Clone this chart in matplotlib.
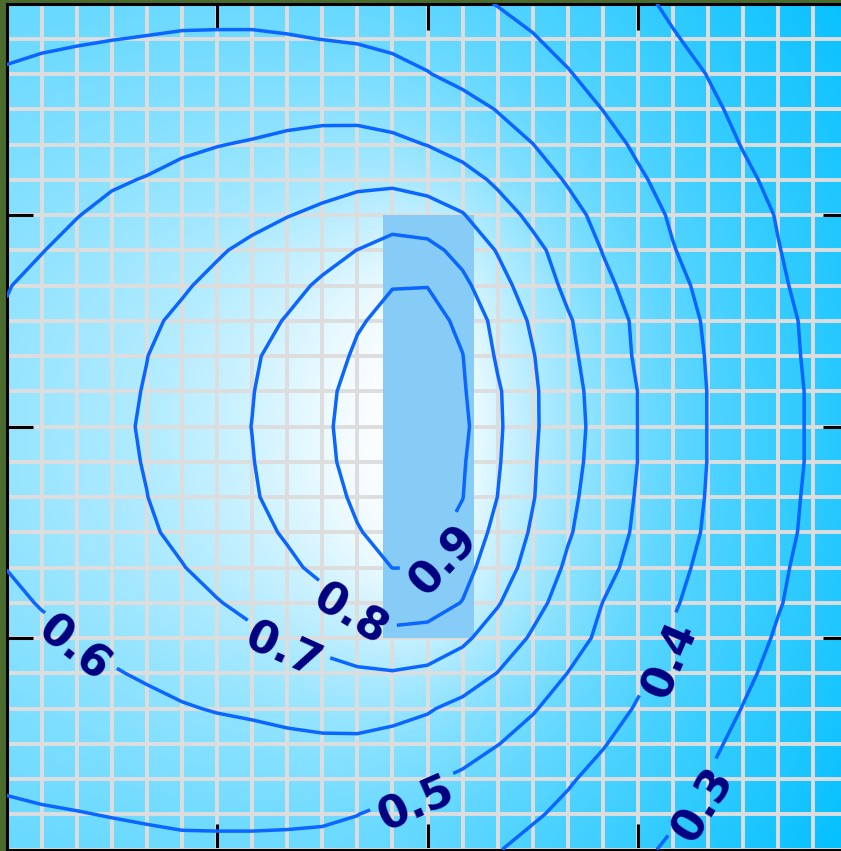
"""
Contour map of a normalised scalar field on the square [-2, 2] x [-2, 2].

The field is shaded as a sky-blue image, a fine reference grid is laid over
it, a rectangular region is highlighted in the middle and the iso-lines
0.3 ... 0.9 are drawn and labelled on top.
"""

import numpy as np
import matplotlib.pyplot as plt
from matplotlib.colors import LinearSegmentedColormap
from matplotlib.patches import Rectangle

# Field values on a 25 x 25 grid.
# Rows run from the top edge (y = 2) down to the bottom edge (y = -2),
# columns from the left edge (x = -2) to the right edge (x = 2).
field_rows = [
    [0.470, 0.470, 0.470, 0.475, 0.480, 0.480, 0.480, 0.480, 0.475, 0.470, 0.460, 0.450, 0.435, 0.418, 0.397, 0.381, 0.362, 0.339, 0.314, 0.288, 0.263, 0.239, 0.216, 0.192, 0.167],
    [0.489, 0.493, 0.496, 0.499, 0.502, 0.506, 0.507, 0.507, 0.504, 0.499, 0.494, 0.484, 0.469, 0.455, 0.432, 0.404, 0.381, 0.357, 0.332, 0.305, 0.281, 0.257, 0.234, 0.210, 0.187],
    [0.504, 0.510, 0.515, 0.522, 0.528, 0.534, 0.537, 0.540, 0.541, 0.540, 0.535, 0.522, 0.503, 0.478, 0.453, 0.428, 0.404, 0.377, 0.351, 0.326, 0.298, 0.275, 0.251, 0.228, 0.205],
    [0.519, 0.527, 0.536, 0.546, 0.553, 0.562, 0.568, 0.572, 0.577, 0.580, 0.578, 0.567, 0.549, 0.528, 0.497, 0.464, 0.432, 0.399, 0.370, 0.341, 0.312, 0.285, 0.260, 0.235, 0.210],
    [0.535, 0.545, 0.557, 0.570, 0.578, 0.590, 0.598, 0.605, 0.615, 0.623, 0.626, 0.617, 0.598, 0.563, 0.531, 0.501, 0.462, 0.425, 0.389, 0.358, 0.327, 0.297, 0.272, 0.247, 0.222],
    [0.550, 0.563, 0.577, 0.593, 0.603, 0.616, 0.628, 0.641, 0.656, 0.669, 0.680, 0.681, 0.663, 0.637, 0.584, 0.538, 0.493, 0.451, 0.410, 0.375, 0.344, 0.312, 0.284, 0.259, 0.234],
    [0.565, 0.582, 0.598, 0.615, 0.627, 0.640, 0.655, 0.677, 0.697, 0.716, 0.739, 0.760, 0.743, 0.705, 0.640, 0.579, 0.526, 0.477, 0.432, 0.391, 0.359, 0.327, 0.296, 0.271, 0.246],
    [0.580, 0.598, 0.617, 0.636, 0.655, 0.674, 0.692, 0.717, 0.745, 0.773, 0.801, 0.833, 0.827, 0.771, 0.694, 0.625, 0.560, 0.497, 0.450, 0.403, 0.369, 0.335, 0.302, 0.275, 0.248],
    [0.597, 0.616, 0.635, 0.654, 0.673, 0.692, 0.718, 0.748, 0.778, 0.811, 0.854, 0.898, 0.898, 0.822, 0.735, 0.652, 0.581, 0.519, 0.468, 0.420, 0.380, 0.344, 0.309, 0.279, 0.251],
    [0.606, 0.627, 0.647, 0.668, 0.688, 0.713, 0.743, 0.773, 0.805, 0.849, 0.894, 0.917, 0.934, 0.880, 0.768, 0.687, 0.609, 0.544, 0.485, 0.435, 0.390, 0.354, 0.318, 0.286, 0.258],
    [0.613, 0.634, 0.656, 0.677, 0.699, 0.729, 0.759, 0.790, 0.828, 0.871, 0.909, 0.934, 0.940, 0.902, 0.788, 0.705, 0.621, 0.551, 0.489, 0.441, 0.395, 0.358, 0.321, 0.288, 0.258],
    [0.616, 0.638, 0.660, 0.681, 0.704, 0.735, 0.766, 0.797, 0.841, 0.886, 0.919, 0.946, 0.935, 0.910, 0.811, 0.714, 0.632, 0.562, 0.499, 0.448, 0.398, 0.361, 0.325, 0.291, 0.262],
    [0.618, 0.640, 0.662, 0.684, 0.708, 0.739, 0.769, 0.801, 0.845, 0.890, 0.922, 0.950, 0.939, 0.921, 0.815, 0.714, 0.636, 0.566, 0.499, 0.449, 0.398, 0.361, 0.325, 0.291, 0.262],
    [0.617, 0.639, 0.660, 0.682, 0.704, 0.735, 0.766, 0.797, 0.841, 0.886, 0.920, 0.948, 0.936, 0.909, 0.809, 0.709, 0.630, 0.563, 0.499, 0.449, 0.398, 0.361, 0.325, 0.291, 0.262],
    [0.614, 0.635, 0.657, 0.678, 0.699, 0.730, 0.761, 0.791, 0.831, 0.874, 0.911, 0.938, 0.929, 0.902, 0.799, 0.705, 0.621, 0.554, 0.493, 0.443, 0.395, 0.358, 0.321, 0.288, 0.258],
    [0.608, 0.628, 0.649, 0.669, 0.690, 0.716, 0.746, 0.776, 0.809, 0.852, 0.896, 0.922, 0.926, 0.875, 0.770, 0.689, 0.609, 0.545, 0.486, 0.436, 0.390, 0.354, 0.318, 0.285, 0.256],
    [0.601, 0.619, 0.639, 0.658, 0.678, 0.697, 0.725, 0.755, 0.784, 0.819, 0.862, 0.901, 0.901, 0.831, 0.749, 0.663, 0.586, 0.526, 0.471, 0.421, 0.380, 0.345, 0.310, 0.279, 0.250],
    [0.585, 0.604, 0.622, 0.641, 0.659, 0.677, 0.696, 0.721, 0.748, 0.776, 0.805, 0.843, 0.840, 0.797, 0.707, 0.629, 0.561, 0.499, 0.453, 0.407, 0.371, 0.338, 0.304, 0.274, 0.245],
    [0.570, 0.585, 0.599, 0.617, 0.634, 0.651, 0.668, 0.685, 0.702, 0.723, 0.748, 0.777, 0.767, 0.717, 0.655, 0.589, 0.534, 0.483, 0.436, 0.392, 0.359, 0.326, 0.293, 0.264, 0.235],
    [0.554, 0.568, 0.581, 0.595, 0.608, 0.621, 0.634, 0.647, 0.661, 0.676, 0.689, 0.694, 0.680, 0.650, 0.598, 0.547, 0.499, 0.457, 0.414, 0.378, 0.345, 0.312, 0.282, 0.253, 0.224],
    [0.538, 0.548, 0.559, 0.572, 0.583, 0.595, 0.604, 0.611, 0.621, 0.630, 0.635, 0.627, 0.608, 0.575, 0.541, 0.506, 0.468, 0.430, 0.394, 0.362, 0.330, 0.298, 0.269, 0.240, 0.211],
    [0.523, 0.530, 0.539, 0.548, 0.557, 0.567, 0.573, 0.577, 0.583, 0.587, 0.586, 0.573, 0.558, 0.538, 0.502, 0.472, 0.438, 0.404, 0.373, 0.343, 0.313, 0.283, 0.254, 0.225, 0.196],
    [0.507, 0.513, 0.518, 0.525, 0.532, 0.538, 0.542, 0.544, 0.547, 0.547, 0.543, 0.528, 0.510, 0.485, 0.459, 0.433, 0.407, 0.380, 0.353, 0.326, 0.298, 0.270, 0.242, 0.214, 0.186],
    [0.492, 0.495, 0.498, 0.502, 0.506, 0.510, 0.511, 0.511, 0.510, 0.508, 0.501, 0.483, 0.465, 0.446, 0.427, 0.408, 0.385, 0.360, 0.334, 0.308, 0.281, 0.253, 0.225, 0.197, 0.169],
    [0.477, 0.478, 0.480, 0.482, 0.485, 0.488, 0.488, 0.488, 0.487, 0.485, 0.477, 0.465, 0.450, 0.430, 0.403, 0.380, 0.358, 0.336, 0.313, 0.289, 0.261, 0.233, 0.205, 0.177, 0.149],
]

contour_levels = [0.3, 0.4, 0.5, 0.6, 0.7, 0.8, 0.9]

# Highlighted region, as [x0, x1] and [y0, y1]
region_x = [-0.21, 0.22]
region_y = [-1.0, 1.0]

# Points next to which each contour label is placed
label_spots = [
    (-1.675, -1.047),   # 0.6
    (-0.677, -1.047),   # 0.7
    (-0.359, -0.891),   # 0.8
    (0.083, -0.617),    # 0.9
    (-0.059, -1.766),   # 0.5
    (1.128, -1.090),    # 0.4
    (1.318, -1.790),    # 0.3
]

FIG_W, FIG_H = 841, 851          # output size [px]
DPI = 100
BG_COLOR = "#4a6b2b"             # figure background
LINE_COLOR = "#0a66ff"           # contour lines
LABEL_COLOR = "#000080"          # contour labels
GRID_COLOR = "#dddddd"
REGION_COLOR = "#87cbf7"
LABEL_DROP = 12                  # labels hang this far below their line [px]


def build_field():
    """Return grid coordinates and the field with rows ordered bottom to top."""
    z = np.array(field_rows, dtype=float)[::-1]
    ny, nx = z.shape
    x = np.linspace(-2.0, 2.0, nx)
    y = np.linspace(-2.0, 2.0, ny)
    return x, y, z


def drop_labels(ax, texts, drop):
    """Move each label a few pixels towards its own 'down' direction."""
    to_data = ax.transData.inverted()
    for t in texts:
        ang = np.deg2rad(t.get_rotation())
        px, py = ax.transData.transform(t.get_position())
        px += drop * np.sin(ang)
        py -= drop * np.cos(ang)
        t.set_position(to_data.transform((px, py)))


def draw(ax, x, y, z):
    # Shaded background: pixel centres sit on the grid nodes
    dx = x[1] - x[0]
    dy = y[1] - y[0]
    extent = [x[0] - dx / 2, x[-1] + dx / 2, y[0] - dy / 2, y[-1] + dy / 2]
    cmap = LinearSegmentedColormap.from_list("sky", ["#00bfff", "#ffffff"])
    ax.imshow(z, origin="lower", extent=extent, cmap=cmap,
              vmin=z.min(), vmax=z.max(), interpolation="bicubic",
              aspect="auto", zorder=0)

    # Fine reference grid every 1/6, major ticks at -1, 0, 1
    fine = np.linspace(-2.0, 2.0, 25)
    ax.set_xticks([-1, 0, 1])
    ax.set_yticks([-1, 0, 1])
    ax.set_xticks(fine, minor=True)
    ax.set_yticks(fine, minor=True)
    ax.grid(which="both", color=GRID_COLOR, linewidth=2.8)
    ax.tick_params(which="minor", length=0)
    ax.tick_params(which="major", direction="in", length=19, width=2.2,
                   color="black", top=True, right=True,
                   labelbottom=False, labelleft=False)

    # Highlighted region sits above the grid, below the contours
    ax.add_patch(Rectangle((region_x[0], region_y[0]),
                           region_x[1] - region_x[0],
                           region_y[1] - region_y[0],
                           facecolor=REGION_COLOR, edgecolor="none",
                           zorder=2))

    ax.set_xlim(-2, 2)
    ax.set_ylim(-2, 2)

    cs = ax.contour(x, y, z, levels=contour_levels, colors=LINE_COLOR,
                    linewidths=2.5, zorder=3)
    texts = ax.clabel(cs, fmt="%.1f", fontsize=32, colors=LABEL_COLOR,
                      inline=True, inline_spacing=6, manual=label_spots)
    drop_labels(ax, texts, LABEL_DROP)

    for spine in ax.spines.values():
        spine.set_linewidth(2.2)
        spine.set_color("black")


def main():
    plt.rcParams["font.family"] = ["DejaVu Sans"]
    plt.rcParams["font.weight"] = "bold"

    x, y, z = build_field()

    fig = plt.figure(figsize=(FIG_W / DPI, FIG_H / DPI), dpi=DPI,
                     facecolor=BG_COLOR)
    # The plotting area fills the canvas and runs slightly past the right edge
    ax = fig.add_axes([6.5 / FIG_W, 1.5 / FIG_H, 842 / FIG_W, 846 / FIG_H])

    draw(ax, x, y, z)

    fig.savefig("out.png", dpi=DPI, facecolor=fig.get_facecolor())


if __name__ == "__main__":
    main()
